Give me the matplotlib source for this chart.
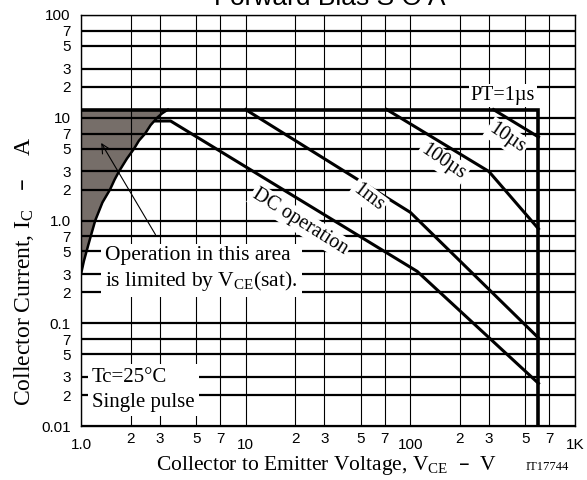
import matplotlib.pyplot as plt

# 字体：正文用衬线体，刻度用无衬线体
plt.rcParams['font.family'] = ['Liberation Serif', 'DejaVu Serif']
plt.rcParams['mathtext.default'] = 'regular'
TICK_FONT = ['Liberation Sans Narrow', 'Liberation Sans']

# 坐标轴刻度
x_major = [1, 10, 100, 1000]
x_major_labels = ['1.0', '10', '100', '1K']
x_minor = [2, 3, 5, 7, 20, 30, 50, 70, 200, 300, 500, 700]
x_minor_labels = ['2', '3', '5', '7'] * 3
y_major = [0.01, 0.1, 1, 10, 100]
y_major_labels = ['0.01', '0.1', '1.0', '10', '100']
y_minor = [0.02, 0.03, 0.05, 0.07, 0.2, 0.3, 0.5, 0.7, 2, 3, 5, 7, 20, 30, 50, 70]
y_minor_labels = ['2', '3', '5', '7'] * 4

# SOA 曲线 (V, A)
pt_v = [1, 600, 600]
pt_i = [12, 12, 0.01]
us10_v = [320, 600]
us10_i = [12, 6.5]
us100_v = [72, 300, 600]
us100_i = [12, 3.0, 0.83]
ms1_v = [10, 100, 600]
ms1_i = [12, 1.2, 0.072]
dc_v = [2.85, 3.5, 110, 600]
dc_i = [9.3, 9.3, 0.32, 0.026]

# VCE(sat) 限制区域边界
sat_v = [1.0, 1.04, 1.08, 1.145, 1.22, 1.35, 1.5, 1.6, 1.7, 1.9, 2.1, 2.25, 2.45, 2.65, 2.9, 3.1, 3.37]
sat_i = [0.3, 0.4, 0.5, 0.7, 1.0, 1.5, 2.0, 2.5, 3.0, 4.0, 5.0, 6.0, 7.0, 8.5, 10.0, 11.0, 12.0]

fig = plt.figure(figsize=(5.87, 4.80), dpi=100)
ax = fig.add_axes([81 / 587, 54 / 480, 494 / 587, 411 / 480])
ax.set_xscale('log')
ax.set_yscale('log')
ax.set_xlim(1, 1000)
ax.set_ylim(0.01, 100)

ax.set_xticks(x_major, x_major_labels)
ax.set_xticks(x_minor, x_minor_labels, minor=True)
ax.set_yticks(y_major, y_major_labels)
ax.set_yticks(y_minor, y_minor_labels, minor=True)
ax.tick_params(which='both', length=0, labelsize=11, labelfontfamily=TICK_FONT)
ax.tick_params(axis='x', which='major', pad=8.5)
ax.tick_params(axis='x', which='minor', pad=4)
ax.tick_params(axis='y', which='both', pad=7.5)

ax.grid(True, which='both', axis='x', color='black', lw=0.8)
ax.grid(True, which='both', axis='y', color='black', lw=1.6)
for s in ax.spines.values():
    s.set_linewidth(1.0)

# 阴影区域
ax.fill_betweenx(sat_i, 1, sat_v, color='#766e69', lw=0, zorder=1.5)
ax.plot(sat_v, sat_i, color='black', lw=1.8)

ax.plot(pt_v, pt_i, color='black', lw=2.6, solid_joinstyle='miter')
ax.plot(us10_v, us10_i, color='black', lw=2.2)
ax.plot(us100_v, us100_i, color='black', lw=2.2)
ax.plot(ms1_v, ms1_i, color='black', lw=2.2)
ax.plot(dc_v, dc_i, color='black', lw=2.2)

box = dict(facecolor='white', edgecolor='none', pad=1.5)
ax.text(365, 16.6, 'PT=1µs', fontsize=14.5, ha='center', va='center', bbox=box)
ax.text(386, 6.35, '10µs', fontsize=14.5, ha='center', va='center', rotation=-34, bbox=box)
ax.text(158, 3.71, '100µs', fontsize=14.5, ha='center', va='center', rotation=-34, bbox=box)
ax.text(55.3, 1.66, '1ms', fontsize=14.5, ha='center', va='center', rotation=-37, bbox=box)
ax.text(21.4, 0.97, 'DC operation', fontsize=14.5, ha='center', va='center', rotation=-32, bbox=box)

ax.text(1.40, 0.335, 'Operation in this area\nis limited by V$_{CE}$(sat).', fontsize=15.5,
        ha='left', va='center', linespacing=1.2, bbox=dict(facecolor='white', edgecolor='none', pad=3))
ax.annotate('', xy=(1.30, 6.0), xytext=(2.89, 0.69),
            arrowprops=dict(arrowstyle='->', lw=0.8, color='black', mutation_scale=16))

ax.text(1.166, 0.0224, 'Tc=25°C\nSingle pulse', fontsize=15, ha='left', va='center',
        linespacing=1.45, bbox=dict(facecolor='white', edgecolor='none', pad=3))

fig.text(0.561, 0.9896, 'Forward Bias S O A', fontsize=19, family='Liberation Sans',
         ha='center', va='baseline')
fig.text(0.557, 0.0208, 'Collector to Emitter Voltage, V$_{CE}$  –  V', fontsize=15.5,
         ha='center', va='baseline')
fig.text(0.932, 0.0208, 'IT17744', fontsize=9, ha='center', va='baseline')
fig.text(0.0511, 0.435, 'Collector Current, I$_C$   –    A', fontsize=17, rotation=90,
         rotation_mode='anchor', ha='center', va='baseline')

fig.savefig('out.png', dpi=100)
